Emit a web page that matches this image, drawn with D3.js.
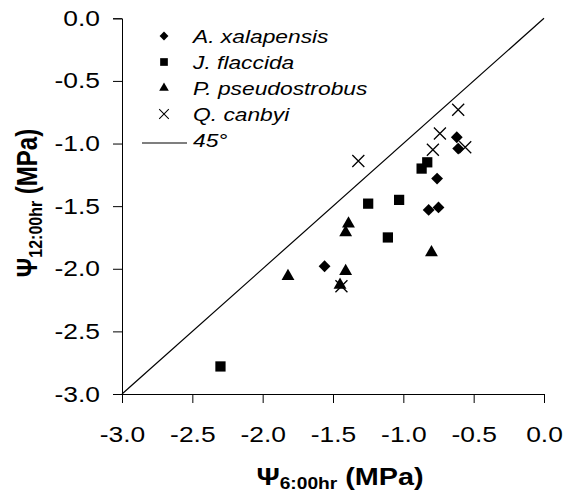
<!DOCTYPE html>
<html>
<head>
<meta charset="utf-8">
<script src="https://cdn.jsdelivr.net/npm/d3@7"></script>
<style>
  body { margin: 0; background: #fff; }
  svg { display: block; font-family: "Liberation Sans", Arial, sans-serif; }
</style>
</head>
<body>
<svg id="chart" width="564" height="493"></svg>
<script>
// species measurements, psi at 6:00 vs psi at 12:00 (MPa)
const species = ["A. xalapensis", "J. flaccida", "P. pseudostrobus", "Q. canbyi"];

const xalapensisX = [-0.62, -0.61, -0.76, -0.82, -0.75, -1.56];
const xalapensisY = [-0.95, -1.04, -1.28, -1.53, -1.51, -1.98];

const flaccidaX = [-0.83, -0.87, -1.25, -1.03, -1.11, -2.30];
const flaccidaY = [-1.15, -1.20, -1.48, -1.45, -1.75, -2.78];

const pseudostrobusX = [-1.39, -1.41, -0.80, -1.82, -1.41, -1.45];
const pseudostrobusY = [-1.64, -1.71, -1.87, -2.06, -2.02, -2.13];

const canbyiX = [-0.61, -0.74, -0.79, -0.56, -1.32, -1.44];
const canbyiY = [-0.73, -0.92, -1.05, -1.03, -1.14, -2.14];

const tickValues = [-3.0, -2.5, -2.0, -1.5, -1.0, -0.5, 0.0];

const svg = d3.select("#chart");

// the source picture is stretched sideways, so the text is too
const stretch = 1.2;

const x = d3.scaleLinear().domain([-3, 0]).range([122, 544]);
const y = d3.scaleLinear().domain([-3, 0]).range([394, 18.3]);

// plain hyphen like the original, not the unicode minus
const fmt = v => d3.format(".1f")(v).replace("\u2212", "-");

// axes
const xAxis = svg.append("g")
  .attr("transform", `translate(0,${y(-3)})`)
  .call(d3.axisBottom(x).tickValues(tickValues).tickFormat(fmt).tickSizeOuter(0).tickSize(9).tickPadding(23));

const yAxis = svg.append("g")
  .attr("transform", `translate(${x(-3)},0)`)
  .call(d3.axisLeft(y).tickValues(tickValues).tickFormat(fmt).tickSizeOuter(0).tickSize(9).tickPadding(13));

[xAxis, yAxis].forEach(a => {
  a.select(".domain").attr("stroke", "#000").attr("stroke-width", 1);
  a.selectAll(".tick line").attr("stroke", "#000");
  a.selectAll(".tick text")
    .attr("fill", "#000")
    .style("font-size", "22px")
    .style("font-family", '"Liberation Sans", Arial, sans-serif')
    .attr("transform", `scale(${stretch},1)`);
});
yAxis.selectAll(".tick text").attr("x", -22 / stretch);

// 45 degree line
svg.append("line")
  .attr("x1", x(-3)).attr("y1", y(-3))
  .attr("x2", x(0)).attr("y2", y(0))
  .attr("stroke", "#000").attr("stroke-width", 1.2);

// marker shapes
const diamond = d3.symbol().type(d3.symbolSquare).size(70)();
const square = d3.symbol().type(d3.symbolSquare).size(105)();
const triangle = d3.symbol().type(d3.symbolTriangle).size(72)();
const cross = "M-6,-6L6,6M-6,6L6,-6";

const drawSet = (xs, ys, shape, rotate, filled) => {
  svg.append("g").selectAll("path")
    .data(xs.map((v, i) => [v, ys[i]]))
    .join("path")
    .attr("d", shape)
    .attr("transform", d => `translate(${x(d[0])},${y(d[1])}) rotate(${rotate})`)
    .attr("fill", filled ? "#000" : "none")
    .attr("stroke", "#000")
    .attr("stroke-width", filled ? 0 : 1.3);
}

drawSet(xalapensisX, xalapensisY, diamond, 45, true);
drawSet(flaccidaX, flaccidaY, square, 0, true);
drawSet(pseudostrobusX, pseudostrobusY, triangle, 0, true);
drawSet(canbyiX, canbyiY, cross, 0, false);

// legend
const legend = svg.append("g").attr("transform", "translate(164,36)");
const legendShapes = [[diamond, 45, true, 0.75], [square, 0, true, 0.75], [triangle, 0, true, 0.75], [cross, 0, false, 0.8]];
const rowH = 26;

species.forEach((s, i) => {
  const sh = legendShapes[i];
  legend.append("path")
    .attr("d", sh[0])
    .attr("transform", `translate(0,${i * rowH}) rotate(${sh[1]}) scale(${sh[3]})`)
    .attr("fill", sh[2] ? "#000" : "none")
    .attr("stroke", "#000")
    .attr("stroke-width", sh[2] ? 0 : 1.3);
  legend.append("text")
    .attr("transform", `translate(29,${i * rowH + 7}) scale(${stretch},1)`)
    .style("font-size", "19px").style("font-style", "italic")
    .text(s);
});

legend.append("line")
  .attr("x1", -22).attr("x2", 23)
  .attr("y1", 4 * rowH + 3).attr("y2", 4 * rowH + 3)
  .attr("stroke", "#000").attr("stroke-width", 1.2);
legend.append("text")
  .attr("transform", `translate(29,${4 * rowH + 7}) scale(${stretch},1)`)
  .style("font-size", "19px").style("font-style", "italic")
  .text("45°");

// axis titles
const addTitle = (sub) => {
  const t = svg.append("text")
    .attr("text-anchor", "middle")
    .style("font-weight", "bold").style("font-size", "24px");
  t.append("tspan").text("Ψ");
  t.append("tspan").attr("dy", 4).style("font-size", "16px").text(sub);
  t.append("tspan").attr("dy", -4).text(" (MPa)");
  return t;
}

addTitle("6:00hr")
  .attr("transform", `translate(340,485) scale(${stretch},1)`);

addTitle("12:00hr")
  .attr("transform", `translate(37,203) scale(${stretch},1) rotate(-90)`);
</script>
</body>
</html>
